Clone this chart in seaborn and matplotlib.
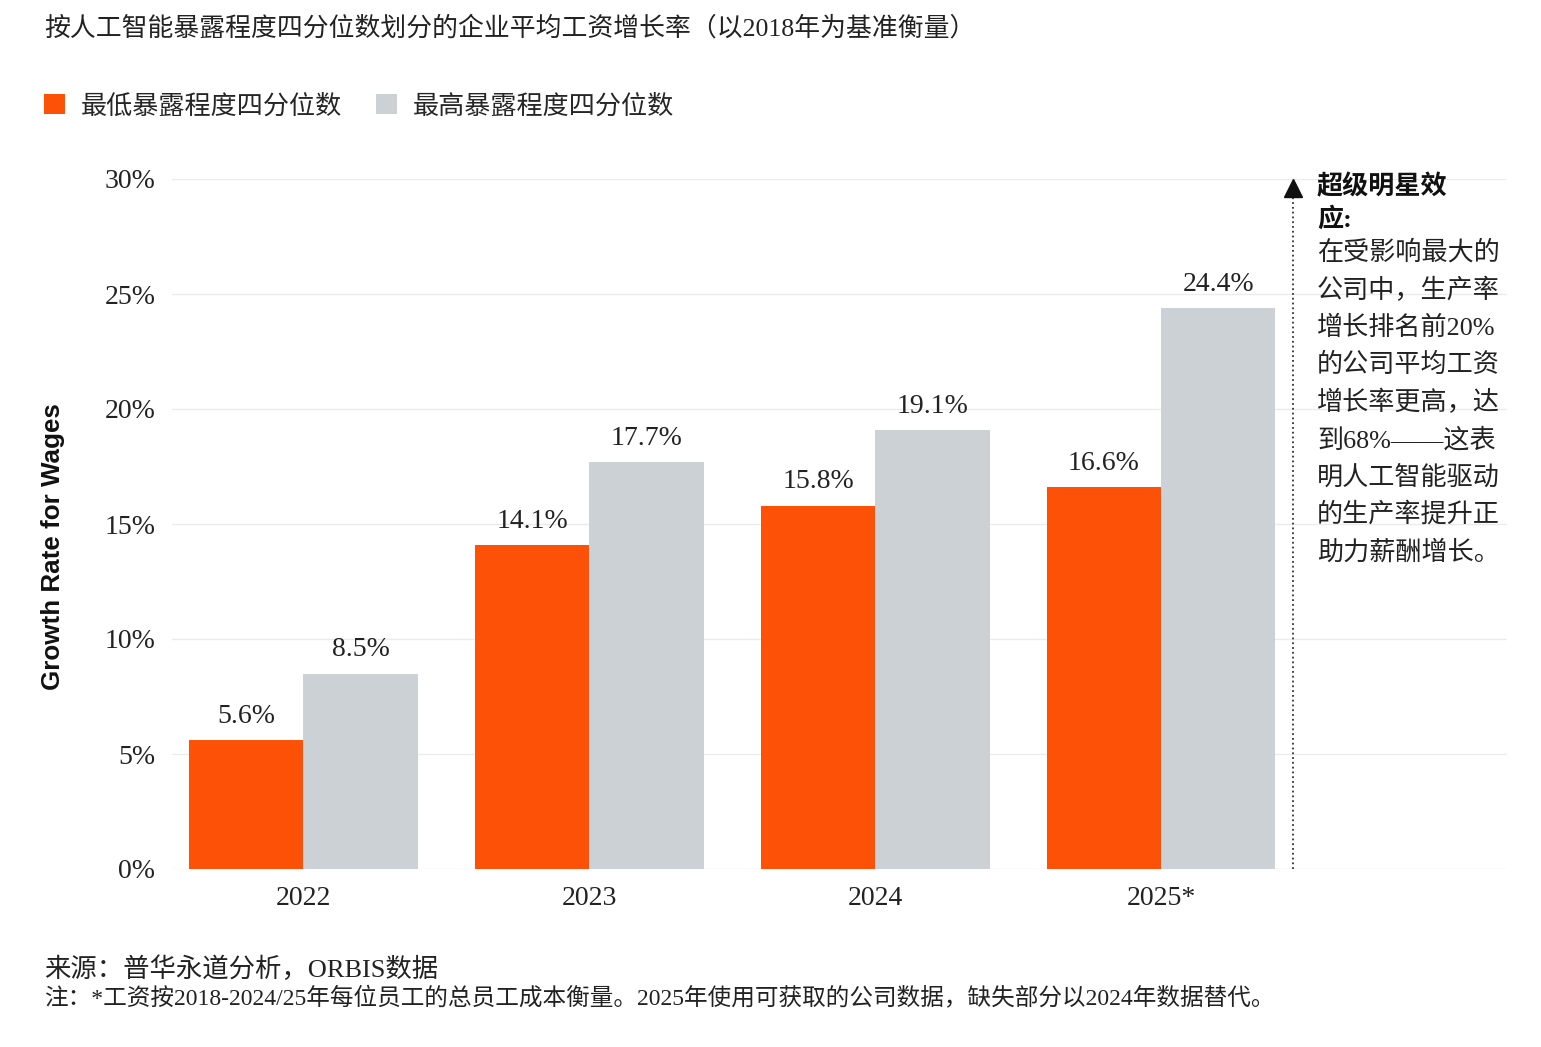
import pandas as pd
import seaborn as sns
import matplotlib.pyplot as plt

# values
years = ["2022", "2023", "2024", "2025*"]
lowest_exposure = [5.6, 14.1, 15.8, 16.6]
highest_exposure = [8.5, 17.7, 19.1, 24.4]
series_names = ["最低暴露程度四分位数", "最高暴露程度四分位数"]
y_ticks = [0, 5, 10, 15, 20, 25, 30]

data = pd.DataFrame({
    "year": years * 2,
    "group": [series_names[0]] * 4 + [series_names[1]] * 4,
    "value": lowest_exposure + highest_exposure,
})

sns.set_theme(style="white")
plt.rcParams['font.family'] = ['Liberation Serif', 'Noto Sans CJK SC']
cjk = ['Liberation Serif', 'Noto Sans CJK SC']

fig = plt.figure(figsize=(15.41, 10.47), dpi=100)
ax = fig.add_axes([172 / 1541, 178 / 1047, 1335 / 1541, 690 / 1047])

sns.barplot(
    data=data, x="year", y="value", hue="group",
    palette=["#FD5108", "#CBD1D4"],
    width=0.8, saturation=1, linewidth=0, ax=ax,
)

for c in ax.containers:
    ax.bar_label(c, labels=[f"{v:.1f}%" for v in c.datavalues],
                 padding=8, fontsize=20, color="#222222")

ax.set_ylim(0, 30)
ax.set_xlim(-0.46, 4.21)
ax.set_yticks(y_ticks)
ax.set_yticklabels([f"{t}%" for t in y_ticks])
ax.yaxis.grid(True, color="#EBEBEB", linewidth=1)
ax.set_axisbelow(True)
for s in ax.spines.values():
    s.set_visible(False)
ax.tick_params(axis="y", length=0, pad=12, labelsize=20, labelcolor="#222222")
ax.tick_params(axis="x", length=0, pad=12, labelsize=20, labelcolor="#222222")
ax.set_xlabel("")
ax.set_ylabel("Growth Rate for Wages", family="Liberation Sans", fontweight="bold",
              fontsize=18.7, color="#111111")
ax.yaxis.set_label_coords(-0.08, 0.468)

# legend on top left
sns.move_legend(ax, "upper left", bbox_to_anchor=(44 / 1541, 1 - 94 / 1047),
                bbox_transform=fig.transFigure, ncol=2, title=None, frameon=False,
                fontsize=18.8, handlelength=0.8, handleheight=0.8,
                handletextpad=0.6, columnspacing=1.3, borderaxespad=0, borderpad=0)

# superstar effect annotation
ax.plot([3.46, 3.46], [0, 29.6], linestyle=":", color="#333333", linewidth=1.3)
ax.plot([3.46], [29.6], marker="^", markersize=13, color="#111111", clip_on=False)
ax.text(3.545, 30.2, "超级明星效\n应:", fontsize=18.8, fontweight="bold", family=cjk,
        va="top", ha="left", linespacing=1.38, color="#111111")
ax.text(3.545, 27.35,
        "在受影响最大的\n公司中，生产率\n增长排名前20%\n的公司平均工资\n增长率更高，达\n"
        "到68%——这表\n明人工智能驱动\n的生产率提升正\n助力薪酬增长。",
        fontsize=18.8, family=cjk, va="top", ha="left", linespacing=1.65, color="#222222")

fig.text(44 / 1541, 1 - 28 / 1047,
         "按人工智能暴露程度四分位数划分的企业平均工资增长率（以2018年为基准衡量）",
         fontsize=18.6, family=cjk, va="center", ha="left", color="#222222")
fig.text(44 / 1541, 1 - 969 / 1047, "来源：普华永道分析，ORBIS数据",
         fontsize=19, family=cjk, va="center", ha="left", color="#222222")
fig.text(44 / 1541, 1 - 999 / 1047,
         "注：*工资按2018-2024/25年每位员工的总员工成本衡量。2025年使用可获取的公司数据，缺失部分以2024年数据替代。",
         fontsize=17, family=cjk, va="center", ha="left", color="#222222")

fig.savefig("out.png", dpi=100, facecolor="white")
